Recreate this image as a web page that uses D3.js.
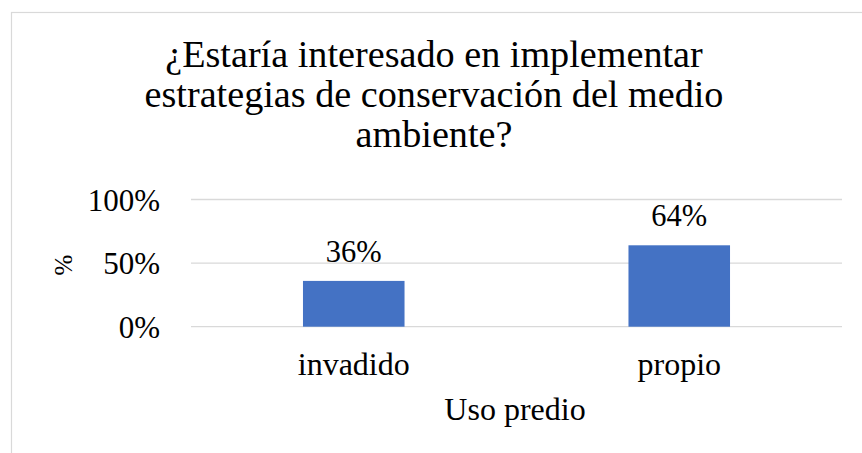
<!DOCTYPE html>
<html>
<head>
<meta charset="utf-8">
<script src="https://cdn.jsdelivr.net/npm/d3@7"></script>
<style>
  html, body { margin: 0; padding: 0; background: #fff; }
  svg { display: block; }
  svg text, svg tspan { font-family: "Liberation Serif", "Times New Roman", serif; fill: #000; }
</style>
</head>
<body>
<svg id="chart" width="862" height="453"></svg>
<script>
const categories = ["invadido", "propio"];
const values = [0.36, 0.64];
const yTicks = [0, 0.5, 1];
const titleLines = ["¿Estaría interesado en implementar", "estrategias de conservación del medio", "ambiente?"];
const xTitle = "Uso predio";
const yTitle = "%";

const SERIF = '"Liberation Serif", "Times New Roman", serif';
const svg = d3.select("#chart");
const W = 862, H = 453;

// chart border
svg.append("rect")
  .attr("x", 11.5).attr("y", 12.5)
  .attr("width", W + 20).attr("height", H + 20)
  .attr("fill", "#fff").attr("stroke", "#d9d9d9").attr("stroke-width", 1.2);

const plot = { left: 191, right: 842, top: 199.5, bottom: 326.7 };

const x = d3.scaleBand().domain(categories).range([plot.left, plot.right]).paddingInner(0.688).paddingOuter(0.344);
const y = d3.scaleLinear().domain([0, 1]).range([plot.bottom, plot.top]);

// title
const title = svg.append("text")
  .attr("text-anchor", "middle")
  .style("font-family", SERIF)
  .style("font-size", "38.2px");
titleLines.forEach((t, i) => {
  title.append("tspan").attr("x", 434).attr("y", 67 + i * 40)
    .style("font-family", SERIF).text(t);
});

// gridlines
svg.append("g").selectAll("line").data(yTicks).join("line")
  .attr("x1", plot.left).attr("x2", plot.right)
  .attr("y1", d => y(d)).attr("y2", d => y(d))
  .attr("stroke", "#d9d9d9").attr("stroke-width", 1.3);

// y axis labels
const yAxis = d3.axisLeft(y).tickValues(yTicks).tickFormat(d3.format(".0%")).tickSize(0).tickPadding(0);
const gy = svg.append("g").attr("transform", `translate(${plot.left - 31},0)`).call(yAxis);
gy.attr("font-family", null).attr("font-size", null);
gy.select(".domain").remove();
gy.selectAll("text").style("font-size", "31px").style("font-family", SERIF).attr("dy", "0.34em");

// bars
svg.append("g").selectAll("rect").data(values).join("rect")
  .attr("x", (d, i) => x(categories[i]))
  .attr("width", x.bandwidth())
  .attr("y", d => y(d))
  .attr("height", d => y(0) - y(d))
  .attr("fill", "#4472c4");

// data labels
svg.append("g").selectAll("text").data(values).join("text")
  .attr("x", (d, i) => x(categories[i]) + x.bandwidth() / 2)
  .attr("y", d => y(d) - 19)
  .attr("text-anchor", "middle")
  .style("font-family", SERIF)
  .style("font-size", "30.5px")
  .text(d => d3.format(".0%")(d));

// x axis labels
const xAxis = d3.axisBottom(x).tickSize(0).tickPadding(0);
const gx = svg.append("g").attr("transform", `translate(0,${plot.bottom})`).call(xAxis);
gx.attr("font-family", null).attr("font-size", null);
gx.select(".domain").remove();
gx.selectAll("text").style("font-size", "32px").style("font-family", SERIF).attr("dy", null).attr("y", 48);

// axis titles
svg.append("text").attr("x", 515).attr("y", 420).attr("text-anchor", "middle")
  .style("font-family", SERIF).style("font-size", "32px").text(xTitle);
svg.append("text").attr("transform", "translate(72,265) rotate(-90)").attr("text-anchor", "middle")
  .style("font-family", SERIF).style("font-size", "25px").text(yTitle);
</script>
</body>
</html>
